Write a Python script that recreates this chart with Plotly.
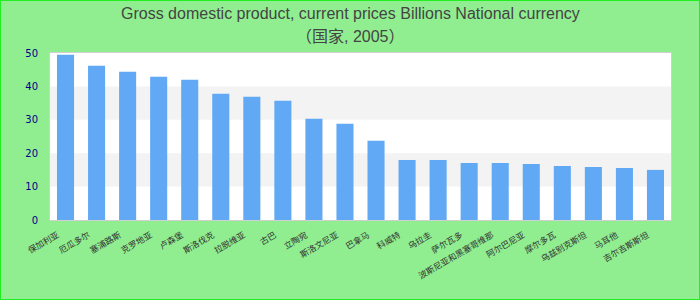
import plotly.graph_objects as go

categories = ["保加利亚", "厄瓜多尔", "塞浦路斯", "克罗地亚", "卢森堡", "斯洛伐克", "拉脱维亚",
              "古巴", "立陶宛", "斯洛文尼亚", "巴拿马", "科威特", "乌拉圭", "萨尔瓦多",
              "波斯尼亚和黑塞哥维那", "阿尔巴尼亚", "摩尔多瓦", "乌兹别克斯坦", "马耳他", "吉尔吉斯斯坦"]
values = [49.5, 46.2, 44.4, 42.9, 42.0, 37.8, 36.9, 35.7, 30.3, 28.8,
          23.7, 18.0, 18.0, 17.1, 17.1, 16.8, 16.2, 15.9, 15.6, 15.0]
y_ticks = [0, 10, 20, 30, 40, 50]
title_line1 = "Gross domestic product, current prices Billions National currency"
title_line2 = "（国家, 2005）"

W, H = 700, 300
L, R, T, B = 50, 29, 53, 80
pw, ph = W - L - R, H - T - B

fig = go.Figure()
fig.add_trace(go.Bar(x=categories, y=values, marker=dict(color="#62a9f5", line=dict(width=0)),
                     width=0.55, hoverinfo="x+y"))

shapes = []
# alternating bands
for i in range(len(y_ticks) - 1):
    if i % 2 == 1:
        shapes.append(dict(type="rect", xref="paper", yref="y", x0=0, x1=1,
                           y0=y_ticks[i], y1=y_ticks[i + 1], fillcolor="#f3f3f3",
                           line=dict(width=0), layer="below"))
# outer border
shapes.append(dict(type="rect", xref="paper", yref="paper",
                   x0=-L / pw, x1=(W - L) / pw, y0=-B / ph, y1=(H - B) / ph,
                   line=dict(color="#22ee22", width=2), fillcolor="rgba(0,0,0,0)", layer="above"))

def py(p):
    return (H - B - p) / ph

title_x = (350 - L) / pw
annotations = [
    dict(text=title_line1, xref="paper", yref="paper", x=title_x, y=py(13), showarrow=False,
         xanchor="center", yanchor="middle",
         font=dict(family="Liberation Sans, Arial, sans-serif", size=16, color="#444444")),
    dict(text=title_line2, xref="paper", yref="paper", x=title_x, y=py(37), showarrow=False,
         xanchor="center", yanchor="middle",
         font=dict(family="Liberation Sans, Noto Sans CJK SC, sans-serif", size=16, color="#444444")),
]

fig.update_layout(
    width=W, height=H,
    margin=dict(l=L, r=R, t=T, b=B, pad=0),
    paper_bgcolor="#90ee90",
    plot_bgcolor="#ffffff",
    showlegend=False,
    shapes=shapes,
    annotations=annotations,
    bargap=0.45,
    xaxis=dict(tickangle=-30, showgrid=False, zeroline=False, showline=True, mirror=True,
               linecolor="#d0d0d0", linewidth=1, ticks="", automargin=False,
               ticklabelshift=-8, ticklabelstandoff=6,
               tickfont=dict(family="Noto Sans CJK SC, DejaVu Sans, sans-serif", size=8.5, color="#333333")),
    yaxis=dict(range=[0, 50], tickvals=y_ticks, showgrid=False, zeroline=False, showline=True,
               mirror=True, linecolor="#d0d0d0", linewidth=1, ticks="", automargin=False,
               ticklabelstandoff=9,
               tickfont=dict(family="DejaVu Sans, sans-serif", size=10, color="#00008b")),
)

fig.write_html("out.html")
